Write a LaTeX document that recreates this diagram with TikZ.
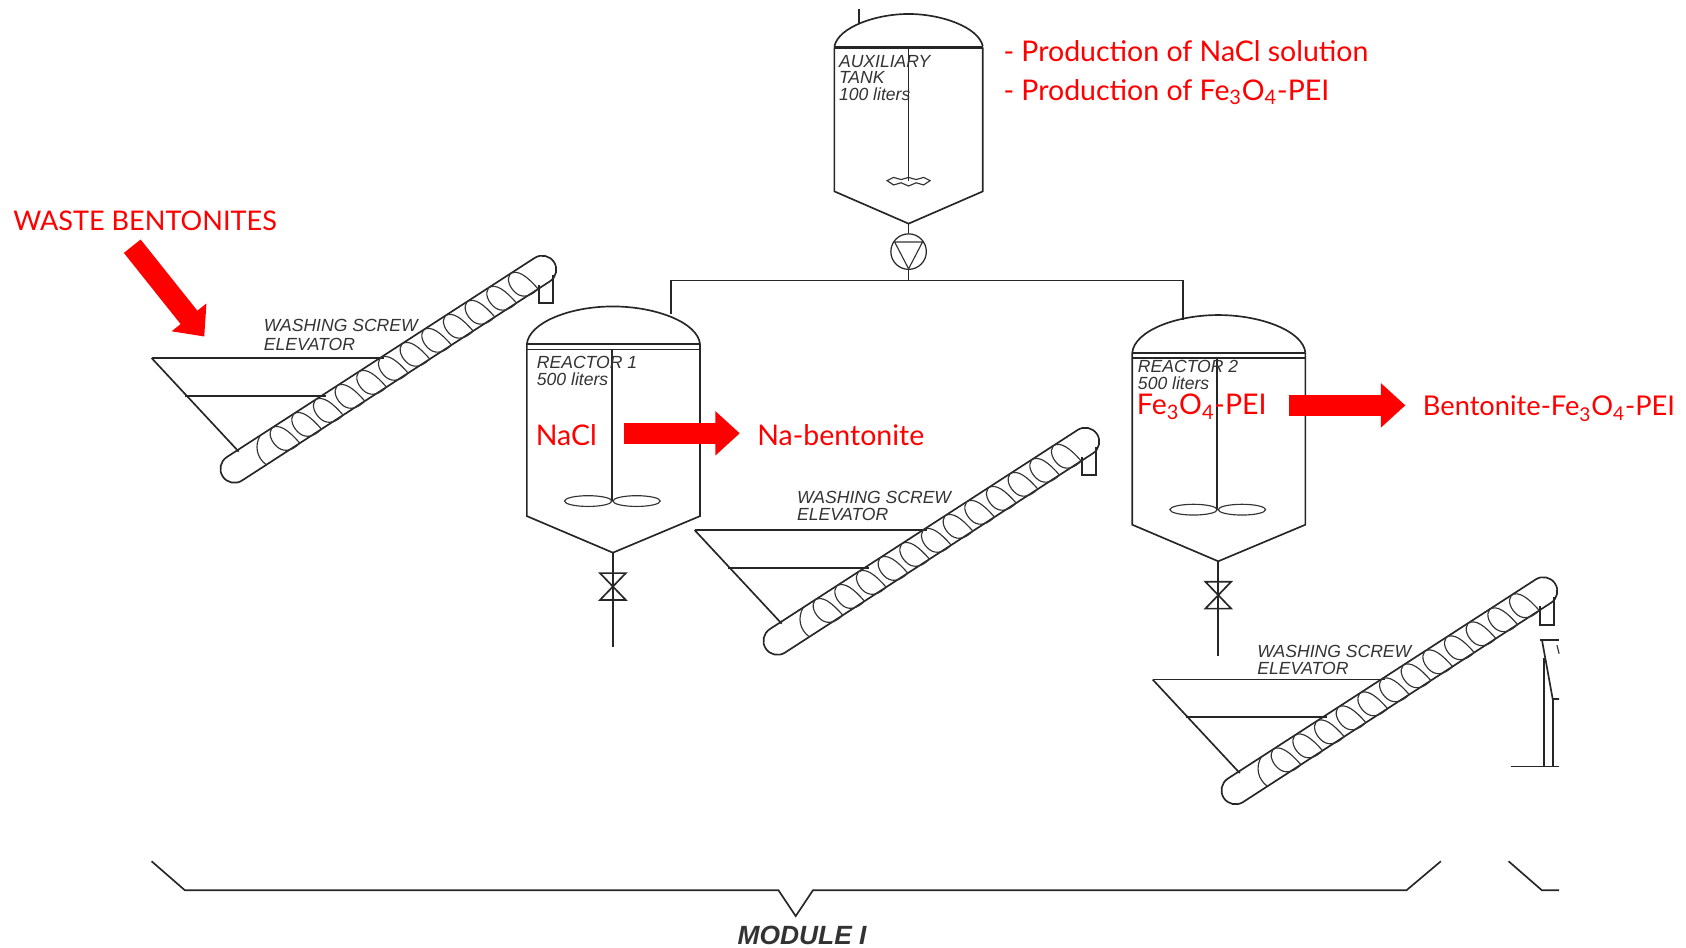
\documentclass[tikz,border=0pt]{standalone}
\usepackage{fontspec}
\setmainfont{Liberation Sans}
\newfontfamily\tagfont{Lato}
\usepackage{tikz}
\usetikzlibrary{arrows.meta, positioning}

\tikzset{
  pics/elevator/.style={code={
    \draw[pipe] (0,0) -- (216,0);
    \draw[pipe] (31,35) -- (162,35);
    \draw[pipe] (0,0) -- (81,87);
    \draw[pipe] (360,-68) -- (360,-51) -- (373,-51) -- (373,-77);
    \begin{scope}[shift={(77,103)}, rotate=32.9]
      \draw[pipe, rounded corners=0.279cm] (-13,-13) rectangle (354,13);
      \draw[coil] (37,-13) .. controls (27,-8) and (23,3) .. (27,13);
      \foreach \u in {50,74,...,314}
        \draw[coil] (\u+14,13) .. controls (\u+5,15) and (\u-2,13) .. (\u-5,6)
                    .. controls (\u-8,-2) and (\u-6,-11) .. (\u,-13)
                    .. controls (\u+8,-13) and (\u+12,-2) .. (\u+14,13);
    \end{scope}
  }},
  pics/reactor/.style={code={
    \draw[pipe] (-80,0) .. controls (-78,-20) and (-40,-35) .. (0,-35)
                .. controls (40,-35) and (79,-20) .. (81,0);
    \draw[pipe] (-80,0) -- (81,0);
    \draw[pipe] (-80,5) -- (81,5);
    \draw[pipe] (-80,0) -- (-80,160) -- (0,194) -- (81,160) -- (81,0);
    \draw[pipe] (-1,5) -- (-1,146);
    \draw[thinpipe] (-23,146) ellipse [x radius=22, y radius=5];
    \draw[thinpipe] (22,146) ellipse [x radius=22, y radius=5];
    \draw[pipe] (0,194) -- (0,282);
    \draw[pipe] (-12,213) -- (12,238) -- (-12,238) -- (12,213) -- cycle;
  }}
}

\begin{document}
\begin{tikzpicture}[x=0.0215cm, y=-0.0215cm,
    pipe/.style={line width=0.95pt, black!85},
    thinpipe/.style={line width=0.65pt, black!80},
    coil/.style={line width=0.65pt, black!80},
    blacklab/.style={font=\fontsize{10}{12}\selectfont\itshape, text=black!80, anchor=west, inner sep=0},
    redlab/.style={font=\fontsize{16.2}{20}\selectfont\tagfont, text=red, anchor=west, inner sep=0},
    bigarrow/.style={red, line width=12.2pt, -{Triangle[width=0.86cm,length=0.49cm]}}]
  \useasboundingbox (0,0) rectangle (1568,881);

  \pic (e1) at (141,333) {elevator};
  \pic (e2) at (646,493) {elevator};
  \pic (e3) at (1072,632) {elevator};
  \node[blacklab] (e1a) at (245,303) {WASHING SCREW};
  \node[blacklab] (e1b) at (245,320) {ELEVATOR};
  \node[blacklab] (e2a) at (741,463) {WASHING SCREW};
  \node[blacklab] (e2b) at (741,478) {ELEVATOR};
  \node[blacklab] (e3a) at (1169,606) {WASHING SCREW};
  \node[blacklab] (e3b) at (1169,622) {ELEVATOR};

  \pic (r1) at (570,320) {reactor};
  \pic (r2) at (1133,328) {reactor};

  % auxiliary tank
  \draw[pipe] (776,43) .. controls (780,25) and (815,13) .. (845,13)
              .. controls (875,13) and (910,25) .. (914,43);
  \draw[line width=1.8pt, black!85] (776,44) -- (914,44);
  \draw[pipe] (776,44) -- (776,178) -- (845,208) -- (914,178) -- (914,44);
  \draw[pipe] (845,45) -- (845,168);
  \draw[thinpipe] (825,168) -- (831,165) -- (838,167) -- (845,165) -- (852,167) -- (859,165) -- (865,168)
                  -- (859,172) -- (852,170) -- (845,173) -- (838,170) -- (831,172) -- cycle;
  \coordinate (stubtop) at (799,8);
  \coordinate (stubend) at (799,21);
  \draw[pipe] (stubtop) -- (stubend);

  % pump and header
  \coordinate (auxout) at (845,208);
  \node[circle, draw, black!85, line width=0.7pt, minimum size=0.71cm, inner sep=0] (pump) at (845,234) {};
  \draw[thinpipe] (832,225) -- (858,225) -- (845,250) -- cycle;
  \coordinate (hdrL) at (624,261);
  \coordinate (hdrC) at (845,261);
  \coordinate (hdrR) at (1100,261);
  \coordinate (r1in) at (624,292);
  \coordinate (r2in) at (1100,298);
  \draw[pipe] (auxout) -- (pump);
  \draw[pipe] (pump) -- (hdrC);
  \draw[pipe] (r1in) -- (hdrL) -- (hdrR) -- (r2in);

  % cut off unit on the right
  \draw[pipe] (1432,595) -- (1450,595);
  \draw[pipe] (1434,595) -- (1444,650) -- (1450,650);
  \draw[pipe] (1436,612) -- (1436,713);
  \draw[pipe] (1444,650) -- (1444,713);
  \draw[pipe] (1405,713) -- (1450,713);
  \draw[thinpipe] (1448,600) -- (1450,608);

  % module bracket
  \draw[pipe] (141,801) -- (172,828) -- (724,828) -- (740,852) -- (756,828) -- (1308,828) -- (1340,801);
  \draw[pipe] (1403,801) -- (1434,828) -- (1450,828);

  \node[blacklab] (auxa) at (780,57) {AUXILIARY};
  \node[blacklab] (auxb) at (780,72) {TANK};
  \node[blacklab] (auxc) at (780,88) {100 liters};
  \node[blacklab] (r1a) at (499,337) {REACTOR 1};
  \node[blacklab] (r1b) at (499,353) {500 liters};
  \node[blacklab] (r2a) at (1058,341) {REACTOR 2};
  \node[blacklab] (r2b) at (1058,356) {500 liters};
  \node[blacklab, font=\fontsize{15}{17}\selectfont\bfseries\itshape, anchor=center] (module) at (746,870) {MODULE I};

  \node[redlab] (prod1) at (933,48) {- Production of NaCl solution};
  \node[redlab] (prod2) at (933,85.5) {- Production of Fe\textsubscript{3}O\textsubscript{4}-PEI};
  \node[redlab, font=\fontsize{15.4}{18}\selectfont\tagfont] (waste) at (12,205) {WASTE BENTONITES};
  \node[redlab] (nacl) at (498,405) {NaCl};
  \node[redlab] (nabent) at (704,405) {Na-bentonite};
  \node[redlab] (fepei) at (1057,378.5) {Fe\textsubscript{3}O\textsubscript{4}-PEI};
  \node[redlab, font=\fontsize{15.5}{18}\selectfont\tagfont] (product) at (1323,380) {Bentonite-Fe\textsubscript{3}O\textsubscript{4}-PEI};

  \coordinate (wastea) at (123,229);
  \coordinate (wasteb) at (190,313);
  \coordinate (r1a1) at (580,403);
  \coordinate (r1a2) at (688,403);
  \coordinate (r2a1) at (1199,377);
  \coordinate (r2a2) at (1307,377);
  \draw[bigarrow] (wastea) -- (wasteb);
  \draw[bigarrow] (r1a1) -- (r1a2);
  \draw[bigarrow] (r2a1) -- (r2a2);
\end{tikzpicture}
\end{document}
